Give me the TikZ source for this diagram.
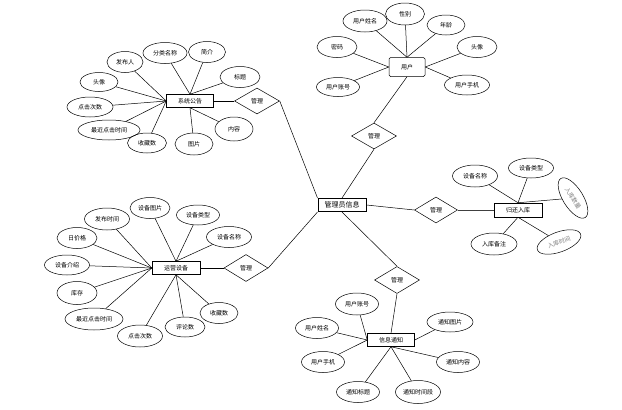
\documentclass[tikz,border=0pt]{standalone}
\usepackage{fontspec}
\newfontfamily\cjk{Noto Sans CJK SC}
\usetikzlibrary{shapes.geometric}
\begin{document}
\begin{tikzpicture}[x=1pt, y=-1pt, line width=0.5pt, font=\cjk\fontsize{6}{7}\selectfont,
  attr/.style = {draw, ellipse, minimum width=42pt, minimum height=21pt, inner sep=0pt},
  ent/.style = {draw, rectangle, minimum width=47pt, minimum height=13pt, inner sep=1pt},
  rel/.style = {draw, diamond, minimum width=45pt, minimum height=26pt, inner sep=0pt}]
\useasboundingbox (0,0) rectangle (622,410);

\node[ent, line width=1pt, minimum width=48pt, font=\cjk\fontsize{7}{8}\selectfont] (adm) at (342,205) {管理员信息};

\node[ent] (gg) at (190,101) {系统公告};
\node[rel] (r1) at (257,101) {管理};
\node[attr, minimum width=36pt] (gg1) at (125,62) {发布人};
\node[attr, minimum width=44pt] (gg2) at (165,53) {分类名称};
\node[attr, minimum width=37pt] (gg3) at (207,52) {简介};
\node[attr, minimum width=40pt] (gg4) at (240,77) {标题};
\node[attr, minimum width=38pt, minimum height=19pt] (gg5) at (99,82) {头像};
\node[attr, minimum width=46pt, minimum height=20pt] (gg6) at (90,107) {点击次数};
\node[attr, minimum width=62pt, minimum height=20pt] (gg7) at (109,130) {最近点击时间};
\node[attr, minimum width=39pt, minimum height=20pt] (gg8) at (147,143) {收藏数};
\node[attr, minimum width=38pt, minimum height=22pt] (gg9) at (194,144) {图片};
\node[attr, minimum width=38pt, minimum height=24pt] (gg10) at (234,129) {内容};

\draw (gg.west) -- (gg1);
\draw (gg.north) -- (gg2);
\draw (gg.north) -- (gg3);
\draw (gg.north) -- (gg4);
\draw (gg.west) -- (gg5);
\draw (gg.west) -- (gg6);
\draw (gg.west) -- (gg7);
\draw (gg.west) -- (gg8);
\draw (gg.south) -- (gg9);
\draw (gg.south) -- (gg10);
\draw (gg) -- (r1);
\draw (r1.east) -- (adm.north west);

\node[ent, rounded corners=1.5pt, minimum width=36pt, minimum height=19pt] (yh) at (407,67) {用户};
\node[rel] (r2) at (374,136) {管理};
\node[attr, minimum width=44pt, minimum height=22pt] (yh1) at (365,21) {用户姓名};
\node[attr, minimum width=39pt, minimum height=22pt] (yh2) at (405,14) {性别};
\node[attr, minimum width=38pt, minimum height=20pt] (yh3) at (446,25) {年龄};
\node[attr, minimum width=40pt] (yh4) at (337,47) {密码};
\node[attr, minimum width=40pt] (yh5) at (477,47) {头像};
\node[attr, minimum width=43pt, minimum height=19pt] (yh6) at (338,87) {用户账号};
\node[attr, minimum width=45pt, minimum height=20pt] (yh7) at (467,85) {用户手机};

\draw (yh.north) -- (yh1);
\draw (yh.north) -- (yh2);
\draw (yh.north) -- (yh3);
\draw (yh.west) -- (yh4);
\draw (yh.east) -- (yh5);
\draw (yh.west) -- (yh6);
\draw (yh.east) -- (yh7);
\draw (adm.north) -- (r2.south);
\draw (r2.north) -- (yh.south);

\node[rel, minimum width=43pt] (r3) at (436,210) {管理};
\node[ent, minimum width=48pt, minimum height=14pt] (gh) at (518,210) {归还入库};
\node[attr, minimum width=45pt, minimum height=22pt] (gh1) at (475,176) {设备名称};
\node[attr, minimum width=45pt, minimum height=20pt] (gh2) at (531,168) {设备类型};
\node[attr, rotate=-58, minimum width=46pt, minimum height=20pt, text=gray] (gh3) at (573,198) {入库数量};
\node[attr, rotate=20, minimum width=46pt, minimum height=20pt, text=gray] (gh4) at (559,242) {入库时间};
\node[attr, minimum width=46pt, minimum height=22pt] (gh5) at (494,244) {入库备注};

\draw (adm.east) -- (r3.west);
\draw [line width=1pt, black!75] (r3.east) -- (gh.west);
\draw (gh.north) -- (gh1);
\draw (gh.north) -- (gh2);
\draw (gh.north) -- (gh3);
\draw (gh.south) -- (gh4);
\draw (gh.south) -- (gh5);

\node[ent, minimum width=48pt] (sb) at (176,268) {运营设备};
\node[rel, minimum width=44pt, minimum height=27pt] (r4) at (246,268) {管理};
\node[attr, minimum width=40pt] (sb1) at (150,208) {设备图片};
\node[attr, minimum width=43pt, minimum height=20pt] (sb2) at (198,215) {设备类型};
\node[attr, minimum width=45pt] (sb3) at (229,237) {设备名称};
\node[attr, minimum width=45pt, minimum height=22pt] (sb4) at (107,219) {发布时间};
\node[attr, minimum width=40pt] (sb5) at (77,238) {日价格};
\node[attr, minimum width=45pt, minimum height=20pt] (sb6) at (67,265) {设备介绍};
\node[attr, minimum width=40pt, minimum height=23pt] (sb7) at (77,293) {库存};
\node[attr, minimum width=58pt, minimum height=22pt] (sb8) at (94,319) {最近点击时间};
\node[attr, minimum width=45pt, minimum height=22pt] (sb9) at (140,336) {点击次数};
\node[attr, minimum width=40pt, minimum height=20pt] (sb10) at (185,327) {评论数};
\node[attr, minimum width=38pt] (sb11) at (219,313) {收藏数};

\draw (sb.north) -- (sb1);
\draw (sb.north) -- (sb2);
\draw (sb.north) -- (sb3);
\draw (sb.west) -- (sb4);
\draw (sb.west) -- (sb5);
\draw (sb.west) -- (sb6);
\draw (sb.west) -- (sb7);
\draw (sb.west) -- (sb8);
\draw (sb.south) -- (sb9);
\draw (sb.south) -- (sb10);
\draw (sb.south) -- (sb11);
\draw (sb) -- (r4);
\draw (r4.east) -- (adm.south west);

\node[ent] (tz) at (391,340) {信息通知};
\node[rel, minimum height=27pt] (r5) at (397,280) {管理};
\node[attr, minimum width=43pt, minimum height=22pt] (tz1) at (357,304) {用户账号};
\node[attr, minimum width=43pt] (tz2) at (317,328) {用户姓名};
\node[attr, minimum width=43pt] (tz3) at (323,362) {用户手机};
\node[attr, minimum width=43pt] (tz4) at (358,392) {通知标题};
\node[attr, minimum width=45pt, minimum height=23pt] (tz5) at (418,392) {通知时间段};
\node[attr, minimum width=43pt] (tz6) at (458,362) {通知内容};
\node[attr, minimum width=46pt, minimum height=20pt] (tz7) at (450,322) {通知图片};

\draw (adm.south) -- (r5.north);
\draw (r5.south) -- (tz.north);
\draw (tz.west) -- (tz1);
\draw (tz.west) -- (tz2);
\draw (tz.west) -- (tz3);
\draw (tz.south) -- (tz4);
\draw (tz.south) -- (tz5);
\draw (tz.south) -- (tz6);
\draw (tz.east) -- (tz7);
\end{tikzpicture}
\end{document}
